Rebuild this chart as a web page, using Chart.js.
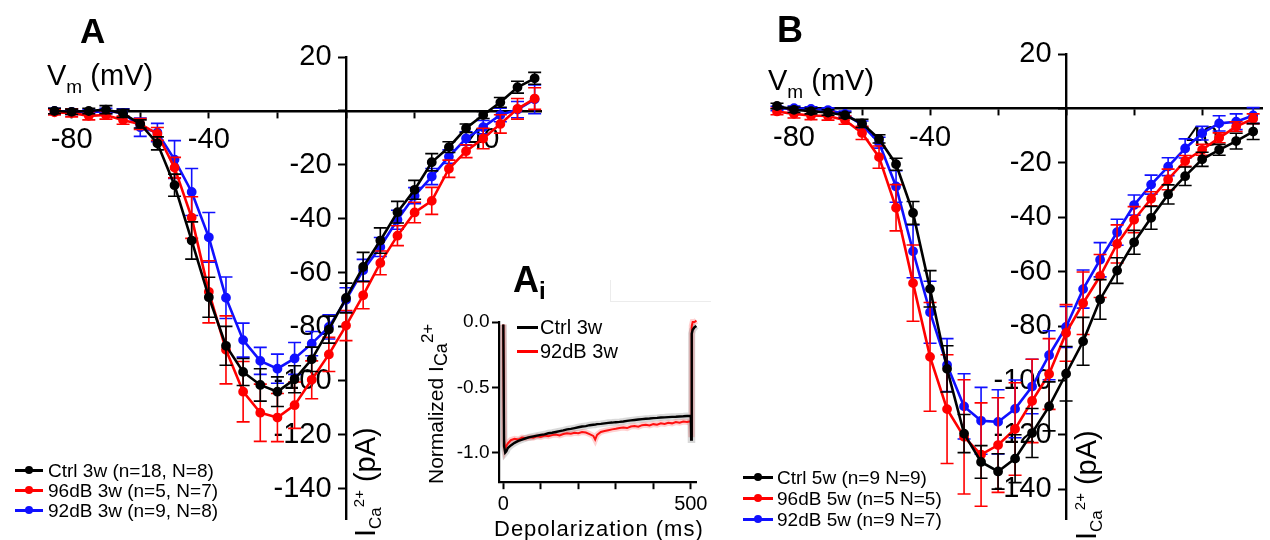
<!DOCTYPE html>
<html>
<head>
<meta charset="utf-8">
<script src="https://cdn.jsdelivr.net/npm/chart.js@4.4.1/dist/chart.umd.min.js"></script>
<style>
body { margin: 0; background: #fff; }
#fig { position: relative; width: 1270px; height: 540px; overflow: hidden; font-family: "Liberation Sans", Arial, sans-serif; color: #000; }
canvas { position: absolute; }
.txt { position: absolute; white-space: nowrap; line-height: 1; }
.rot { position: absolute; white-space: nowrap; line-height: 1; transform: rotate(-90deg); transform-origin: 0 0; }
.key { position: absolute; height: 3px; }
.key i { position: absolute; left: 50%; top: 50%; width: 8px; height: 8px; margin: -4px 0 0 -4px; border-radius: 50%; background: inherit; }
</style>
</head>
<body>
<div id="fig">
  <canvas id="ivA" width="560" height="540" style="left:0;top:0"></canvas>
  <canvas id="ivB" width="530" height="540" style="left:740px;top:0"></canvas>
  <canvas id="trace" width="320" height="260" style="left:400px;top:280px"></canvas>

  <div style="position:absolute;left:610px;top:280px;width:100px;height:21px;border-left:1px solid #ececec;border-bottom:1px solid #ececec"></div>

  <!-- panel letters -->
  <div class="txt" style="left:80px;top:13px;font-size:35px;font-weight:bold">A</div>
  <div class="txt" style="left:777px;top:12px;font-size:36px;font-weight:bold">B</div>
  <div class="txt" style="left:513px;top:262px;font-size:36px;font-weight:bold">A<span style="font-size:24px;position:relative;top:7px">i</span></div>

  <!-- axis titles -->
  <div class="txt" style="left:47px;top:61px;font-size:29px">V<span style="font-size:19px;position:relative;top:8px">m</span> (mV)</div>
  <div class="txt" style="left:768px;top:66px;font-size:29px">V<span style="font-size:19px;position:relative;top:8px">m</span> (mV)</div>
  <div class="rot" style="left:351px;top:537px;font-size:29px">I<span style="font-size:17px;position:relative;top:6px">Ca</span><span style="font-size:15px;position:relative;top:-11px">2+</span> (pA)</div>
  <div class="rot" style="left:1072px;top:540px;font-size:29px">I<span style="font-size:17px;position:relative;top:6px">Ca</span><span style="font-size:15px;position:relative;top:-11px">2+</span> (pA)</div>
  <div class="rot" style="left:425px;top:484px;font-size:21px">Normalized I<span style="font-size:18px;position:relative;top:4px">Ca</span><span style="font-size:17px;position:relative;top:-10px">2+</span></div>
  <div class="txt" style="left:494px;top:518px;font-size:22px;letter-spacing:1px">Depolarization (ms)</div>

  <!-- legend A -->
  <div class="key" style="left:15px;top:468.5px;width:28px;background:#000"><i></i></div>
  <div class="txt" style="left:48px;top:460.5px;font-size:19px">Ctrl 3w (n=18, N=8)</div>
  <div class="key" style="left:15px;top:488.5px;width:28px;background:#ff0000"><i></i></div>
  <div class="txt" style="left:48px;top:480.5px;font-size:19px">96dB 3w (n=5, N=7)</div>
  <div class="key" style="left:15px;top:508.5px;width:28px;background:#1010ff"><i></i></div>
  <div class="txt" style="left:48px;top:500.5px;font-size:19px">92dB 3w (n=9, N=8)</div>

  <!-- legend B -->
  <div class="key" style="left:743px;top:475.5px;width:30px;background:#000"><i></i></div>
  <div class="txt" style="left:777px;top:467.5px;font-size:19px">Ctrl 5w (n=9 N=9)</div>
  <div class="key" style="left:743px;top:496.5px;width:30px;background:#ff0000"><i></i></div>
  <div class="txt" style="left:777px;top:488.5px;font-size:19px">96dB 5w (n=5 N=5)</div>
  <div class="key" style="left:743px;top:517.5px;width:30px;background:#1010ff"><i></i></div>
  <div class="txt" style="left:777px;top:509.5px;font-size:19px">92dB 5w (n=9 N=7)</div>

  <!-- inset legend -->
  <div class="key" style="left:517px;top:325.5px;width:21px;background:#000"></div>
  <div class="txt" style="left:540px;top:317px;font-size:20px">Ctrl 3w</div>
  <div class="key" style="left:517px;top:349.5px;width:21px;background:#ff0000"></div>
  <div class="txt" style="left:540px;top:341px;font-size:20px">92dB 3w</div>
</div>

<script>
// test potentials (mV)
const voltage = [-85, -80, -75, -70, -65, -60, -55, -50, -45, -40, -35, -30, -25, -20, -15,
                 -10, -5, 0, 5, 10, 15, 20, 25, 30, 35, 40, 45, 50, 55];

// panel A, 3 weeks (pA)
const ctrl3w   = [0, -0.3, 0, 0.5, -0.9, -4.8, -12, -27.5, -48, -69, -87, -96.7, -101.5, -104, -99.4,
                  -92, -81, -69.3, -57.8, -48, -37.5, -29.2, -19, -13.4, -6.4, -1.5, 3.2, 8.8, 12.1];
const ctrl3wSem = [1, 1, 1, 1.5, 1.5, 1.5, 2.4, 4.1, 6.9, 7.4, 7.2, 5, 6, 5.5, 5,
                   4.5, 5, 5.5, 5.4, 4.7, 4, 3.5, 3.2, 2, 1.6, 1.3, 1.8, 2.2, 2.2];
const db96_3w  = [-0.5, -0.7, -1.8, -1.5, -3.4, -4.8, -8.5, -21, -39.5, -67, -88.5, -104, -111.8, -113.6, -109,
                  -99.6, -90.2, -79.5, -68.3, -56.3, -46.2, -37.6, -33.3, -21.4, -14.9, -10.2, -4.8, 0.8, 4.6];
const db96_3wSem = [1, 1.5, 1.5, 1.5, 1.5, 2, 2.4, 3.8, 7.7, 11.5, 12.6, 11.2, 10.6, 8.9, 8.6,
                    7, 6.3, 5.6, 5, 4.4, 3.7, 3.8, 5, 3.2, 2.4, 3.8, 3.4, 3.8, 4];
const db92_3w  = [0, -0.3, -0.5, 0, -0.7, -6, -8, -18, -30, -46.8, -69.2, -84.9, -92.6, -95.5, -91.7,
                  -86.2, -80, -70, -59, -50.4, -40.3, -31.4, -24.3, -16.9, -10.2, -6, -1.5, 0.5, 4.3];
const db92_3wSem = [1, 1, 1, 1, 1.5, 3.4, 3.4, 7, 8.7, 9.2, 7.7, 6.3, 5, 5.4, 5.9,
                    4.5, 4.5, 4.5, 4, 3.5, 3.5, 3, 3, 2.5, 2.5, 2.5, 2.5, 3, 5.3];

// panel B, 5 weeks (pA)
const ctrl5w   = [0.9, -0.5, -1, -1.5, -2.5, -5.5, -11.2, -20.5, -38.4, -66.3, -95.7, -119.5, -129.9, -133.4, -128.7,
                  -119.3, -109.5, -97.5, -85.6, -70.2, -59.6, -49.2, -40.2, -31.6, -24.9, -18.7, -15.2, -12, -8.5];
const ctrl5wSem = [1, 1, 1, 1, 1, 1.5, 1.5, 2.2, 4.2, 6.7, 8.5, 7, 6, 6.5, 8.8,
                   9, 9, 10, 8.8, 7.3, 4.7, 4.4, 4.2, 3.5, 3.4, 2.6, 2, 2.9, 2.9];
const db96_5w  = [-1.1, -2, -2.6, -2.8, -4.3, -9, -17.9, -36.5, -64.2, -91.3, -110.5, -120.7, -127.2, -123.7, -117.8,
                  -107.5, -97.6, -82.5, -71.6, -61.6, -49.8, -40.9, -33.2, -26.1, -19.3, -15.2, -10.8, -6.7, -3.8];
const db96_5wSem = [1.2, 1.5, 1.5, 1.5, 1.5, 2.4, 4.1, 8.5, 14, 20, 20, 21, 19, 17.4, 17,
                    15.3, 13, 10.4, 11.5, 7.9, 7, 4.8, 2.6, 3.8, 2, 2, 1.8, 1.8, 1.8];
const db92_5w  = [0, 0.1, -0.2, -0.6, -2, -6.1, -12.6, -28.7, -52.5, -74.9, -94.3, -109.5, -114.8, -115.2, -110.4,
                  -102.2, -90.7, -80.3, -66.4, -55.6, -45.5, -35.5, -28, -21.4, -14.7, -9.1, -5.5, -4.9, -2.6];
const db92_5wSem = [0.8, 0.8, 0.8, 0.8, 1, 1.5, 2, 5.8, 9.7, 11.4, 9.7, 12, 12.3, 11.8, 10.6,
                    10, 9, 7.5, 7, 6.3, 4.8, 3.7, 3.5, 3.3, 3.5, 2.5, 2.8, 2.9, 2.9];

const xTickLabels = [-80, -40, 40];

// inset Ai: normalized current during the 500 ms step
const timeMs = [0, 2, 5, 8, 12, 20, 30, 40, 50, 60, 70, 80, 90, 100, 110, 120, 130, 140, 150, 160,
                170, 180, 190, 200, 210, 220, 230, 240, 245, 250, 260, 270, 280, 290, 300, 310, 320, 330, 340, 350,
                360, 370, 380, 390, 400, 410, 420, 430, 440, 450, 460, 470, 480, 490, 500, 501, 502, 503, 505, 510, 515];
const ctrlTrace = [-0.02, -0.95, -1.0, -0.99, -0.965, -0.945, -0.925, -0.91, -0.9, -0.89, -0.882, -0.876, -0.87, -0.864, -0.86, -0.852, -0.848, -0.842, -0.836, -0.83,
                   -0.822, -0.818, -0.812, -0.806, -0.8, -0.797, -0.79, -0.787, -0.786, -0.782, -0.78, -0.776, -0.772, -0.77, -0.767, -0.765, -0.762, -0.757, -0.753, -0.75,
                   -0.747, -0.744, -0.741, -0.739, -0.736, -0.734, -0.731, -0.73, -0.728, -0.726, -0.725, -0.723, -0.722, -0.72, -0.72, -0.9, -0.35, -0.09, -0.06, -0.04, -0.03];
const db92Trace = [-0.02, -0.9, -0.97, -0.95, -0.93, -0.905, -0.895, -0.9, -0.885, -0.89, -0.882, -0.886, -0.875, -0.88, -0.87, -0.874, -0.866, -0.862, -0.868, -0.858,
                   -0.852, -0.856, -0.848, -0.852, -0.842, -0.846, -0.858, -0.872, -0.9, -0.865, -0.842, -0.834, -0.828, -0.822, -0.818, -0.812, -0.808, -0.812, -0.8, -0.797,
                   -0.802, -0.79, -0.787, -0.792, -0.782, -0.786, -0.776, -0.781, -0.772, -0.776, -0.766, -0.771, -0.762, -0.766, -0.76, -0.86, -0.3, -0.03, 0, 0, 0.01];
const insetXLabels = [0, 500];

Chart.defaults.font.family = '"Liberation Sans", Arial, sans-serif';
Chart.defaults.color = '#000';

// SEM whiskers, drawn right after each dataset
const errorBars = {
    id: 'errorBars',
    afterDatasetDraw(chart, args) {
        const ds = chart.data.datasets[args.index];
        if (!ds.sem) return;
        const yScale = chart.scales.y;
        const ctx = chart.ctx;
        ctx.save();
        ctx.strokeStyle = ds.borderColor;
        ctx.lineWidth = 1.6;
        args.meta.data.forEach((pt, i) => {
            const v = ds.data[i].y;
            const top = yScale.getPixelForValue(v + ds.sem[i]);
            const bot = yScale.getPixelForValue(v - ds.sem[i]);
            ctx.beginPath();
            ctx.moveTo(pt.x, top); ctx.lineTo(pt.x, bot);
            ctx.moveTo(pt.x - 6.5, top); ctx.lineTo(pt.x + 6.5, top);
            ctx.moveTo(pt.x - 6.5, bot); ctx.lineTo(pt.x + 6.5, bot);
            ctx.stroke();
        });
        ctx.restore();
    }
};

function series(label, color, values, sem) {
    return {
        label: label,
        data: voltage.map((v, i) => ({x: v, y: values[i]})),
        sem: sem,
        borderColor: color,
        backgroundColor: color,
        pointBackgroundColor: color,
        pointBorderColor: color,
        borderWidth: 2.6,
        pointRadius: 3.6,
        tension: 0,
        clip: false,
        showLine: true
    };
}

// y labels sit right-aligned on the crossing axis, so pad them with a trailing en space
function ivOptions(pad, xMax, yMin) {
    return {
        responsive: false,
        animation: false,
        events: [],
        layout: {autoPadding: false, padding: pad},
        plugins: {legend: {display: false}, tooltip: {enabled: false}},
        scales: {
            x: {
                type: 'linear', min: -85, max: xMax, position: {y: 0},
                border: {display: true, color: '#000', width: 2.4},
                grid: {display: true, drawOnChartArea: false, drawTicks: true, tickLength: 6, tickWidth: 2, tickColor: '#000'},
                ticks: {
                    stepSize: 20, includeBounds: false, autoSkip: false, maxRotation: 0, padding: 6,
                    font: {size: 29},
                    callback: v => xTickLabels.includes(v) ? String(v) : ''
                }
            },
            y: {
                type: 'linear', min: yMin, max: 20, position: {x: 0},
                border: {display: true, color: '#000', width: 2.4},
                grid: {display: true, drawOnChartArea: false, drawTicks: true, tickLength: 7, tickWidth: 2, tickColor: '#000'},
                ticks: {
                    stepSize: 20, includeBounds: false, autoSkip: false,
                    font: {size: 29},
                    callback: v => v === 0 ? '' : v + '\u2002'
                }
            }
        }
    };
}

new Chart(document.getElementById('ivA'), {
    type: 'scatter',
    data: {
        datasets: [
            series('Ctrl 3w', '#000000', ctrl3w, ctrl3wSem),
            series('96dB 3w', '#ff0000', db96_3w, db96_3wSem),
            series('92dB 3w', '#1010ff', db92_3w, db92_3wSem)
        ]
    },
    options: ivOptions({left: 54.5, right: 18.5, top: 57, bottom: 0}, 57, -151.4),
    plugins: [errorBars]
});

new Chart(document.getElementById('ivB'), {
    type: 'scatter',
    data: {
        datasets: [
            series('Ctrl 5w', '#000000', ctrl5w, ctrl5wSem),
            series('96dB 5w', '#ff0000', db96_5w, db96_5wSem),
            series('92dB 5w', '#1010ff', db92_5w, db92_5wSem)
        ]
    },
    options: ivOptions({left: 37, right: 8, top: 54, bottom: 0}, 57.6, -151.1),
    plugins: [errorBars]
});

function trace(values, color, width) {
    return {
        data: timeMs.map((t, i) => ({x: t, y: values[i]})),
        borderColor: color,
        borderWidth: width,
        pointRadius: 0,
        tension: 0,
        clip: false,
        showLine: true
    };
}

new Chart(document.getElementById('trace'), {
    type: 'scatter',
    data: {
        datasets: [
            trace(ctrlTrace, '#000000', 2.4),
            trace(db92Trace, '#ff1010', 2),
            trace(ctrlTrace, 'rgba(0,0,0,0.15)', 7),
            trace(db92Trace, 'rgba(255,0,0,0.18)', 6)
        ]
    },
    options: {
        responsive: false,
        animation: false,
        events: [],
        layout: {autoPadding: false, padding: {left: 99, right: 23.3, top: 42, bottom: 58}},
        plugins: {legend: {display: false}, tooltip: {enabled: false}},
        scales: {
            x: {
                type: 'linear', min: -11.5, max: 515.7, position: {y: -1.225},
                border: {display: true, color: '#000', width: 2.2},
                grid: {display: true, drawOnChartArea: false, drawTicks: true, tickLength: 6, tickWidth: 2, tickColor: '#000'},
                ticks: {
                    stepSize: 100, includeBounds: false, autoSkip: false, maxRotation: 0, padding: 4,
                    font: {size: 20},
                    callback: v => insetXLabels.includes(v) ? String(v) : ''
                }
            },
            y: {
                type: 'linear', min: -1.225, max: 0, position: {x: -11.5},
                border: {display: true, color: '#000', width: 2.2},
                grid: {display: true, drawOnChartArea: false, drawTicks: true, tickLength: 6, tickWidth: 2, tickColor: '#000'},
                ticks: {
                    stepSize: 0.5, includeBounds: false, autoSkip: false,
                    font: {size: 19},
                    callback: v => v.toFixed(1) + '\u2002'
                }
            }
        }
    }
});
</script>
</body>
</html>
